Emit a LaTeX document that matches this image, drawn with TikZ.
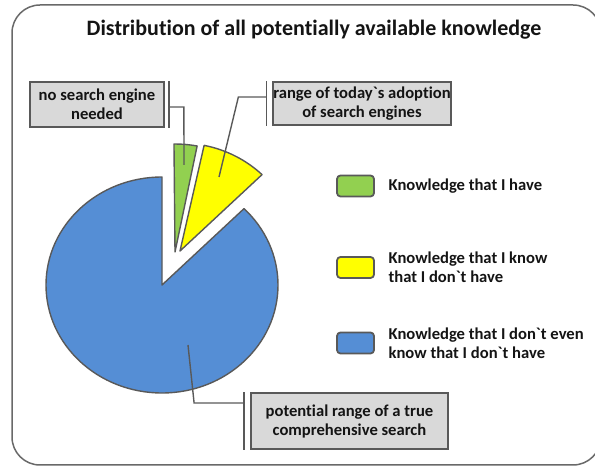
\documentclass[tikz,border=0pt]{standalone}
\usepackage{fontspec}
\setmainfont{Carlito}[Ligatures={TeXOff,NoCommon}]
\usetikzlibrary{calc,positioning}
\definecolor{piegreen}{RGB}{146,208,80}
\definecolor{pieyellow}{RGB}{255,255,0}
\definecolor{pieblue}{RGB}{85,142,213}
\definecolor{edgegray}{RGB}{89,89,89}
\definecolor{boxgray}{RGB}{217,217,217}
\definecolor{framegray}{RGB}{105,105,105}
\definecolor{inkblack}{RGB}{20,20,20}
\tikzstyle{slice}=[
  draw=edgegray,
  line width=1.4pt,
  line join=round,
]
\tikzstyle{callout}=[
  draw=edgegray,
  fill=boxgray,
  line width=1.8pt,
  inner sep=0pt,
  align=center,
  text=inkblack,
  font=\bfseries\fontsize{16.6}{19}\selectfont,
]
\tikzset{
  x=1pt, y=1pt,
  pointer/.style={draw=edgegray, line width=1.4pt},
  swatch/.style={draw=edgegray, line width=1.8pt, rounded corners=3.5pt,
    minimum width=37pt, minimum height=21pt, inner sep=0pt},
  legtext/.style={inner sep=0pt, align=left, text=inkblack,
    font=\bfseries\fontsize{16.6}{19}\selectfont},
}
\begin{document}
\begin{tikzpicture}
  \useasboundingbox (0,0) rectangle (595,466);
  \draw[framegray, line width=1.5pt, rounded corners=28pt] (12,1) rectangle (601,461);
  \node[text=inkblack, font=\bfseries\fontsize{22}{26}\selectfont] (title) at (314,436)
    {Distribution of all potentially available knowledge};

  % pie, two slices pulled out
  \coordinate (cblue) at (162,181);
  \coordinate (cgreen) at (175,214);
  \coordinate (cyellow) at (180,215);
  \filldraw[slice, fill=pieblue] (cblue) -- ++(90:116pt and 108pt)
    arc[start angle=90, end angle=405, x radius=116pt, y radius=108pt] -- cycle;
  \filldraw[slice, fill=piegreen] (cgreen) -- ++(79:116pt and 108pt)
    arc[start angle=79, end angle=90.5, x radius=116pt, y radius=108pt] -- cycle;
  \filldraw[slice, fill=pieyellow] (cyellow) -- ++(45:116pt and 108pt)
    arc[start angle=45, end angle=78, x radius=116pt, y radius=108pt] -- cycle;

  % callouts
  \node[callout, minimum width=134pt, minimum height=45pt] (engine) at (97,361.5)
    {no search engine\\needed};
  \node[callout, minimum width=170pt, minimum height=43pt] (adoption) at (362,362.5)
    {range of today`s adoption\\of search engines};
  \node[callout, minimum width=197pt, minimum height=56pt] (search) at (349.5,45)
    {potential range of a true\\comprehensive search};
  \coordinate (ingreen) at (184,301);
  \coordinate (inyellow) at (219,289);
  \coordinate (inblue) at (188,121);
  \draw[pointer] ([xshift=4pt]engine.north east) -- ([xshift=4pt]engine.south east);
  \draw[pointer] ([xshift=4pt,yshift=-2.5pt]engine.east) -- ++(15,0) -- (ingreen);
  \draw[pointer] ([xshift=-6pt]adoption.north west) -- ([xshift=-6pt]adoption.south west);
  \draw[pointer] ([xshift=-6pt,yshift=6.5pt]adoption.west) -- ++(-28,0) -- (inyellow);
  \draw[pointer] ([xshift=-6pt]search.north west) -- ([xshift=-6pt]search.south west);
  \draw[pointer] ([xshift=-6pt,yshift=18pt]search.west) -- ++(-50,0) -- (inblue);

  % legend
  \node[swatch, fill=piegreen] (have) at (355.5,280) {};
  \node[swatch, fill=pieyellow] (knownot) at (355.5,198.5) {};
  \node[swatch, fill=pieblue] (unknown) at (355.5,123) {};
  \node[legtext, right=13.5pt of have] (havetxt) {Knowledge that I have};
  \node[legtext, right=13.5pt of knownot] (knownottxt)
    {Knowledge that I know\\that I don`t have};
  \node[legtext, right=13.5pt of unknown] (unknowntxt)
    {Knowledge that I don`t even\\know that I don`t have};
\end{tikzpicture}
\end{document}
